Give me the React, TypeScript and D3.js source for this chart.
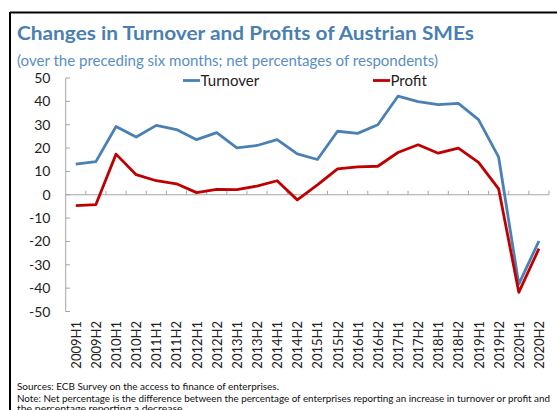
import React from "react";
import * as d3 from "d3";

const categories = [
  "2009H1","2009H2","2010H1","2010H2","2011H1","2011H2","2012H1","2012H2",
  "2013H1","2013H2","2014H1","2014H2","2015H1","2015H2","2016H1","2016H2",
  "2017H1","2017H2","2018H1","2018H2","2019H1","2019H2","2020H1","2020H2",
];
const turnover = [
  13.1, 14.2, 29.2, 24.7, 29.7, 27.9, 23.6, 26.6, 20.1, 21.1, 23.6, 17.5,
  15.1, 27.2, 26.3, 30.0, 42.2, 39.9, 38.6, 39.1, 32.2, 16.1, -38.3, -19.8,
];
const profit = [
  -4.7, -4.2, 17.4, 8.6, 6.0, 4.7, 0.9, 2.3, 2.2, 3.7, 6.0, -2.2,
  4.2, 11.1, 11.9, 12.2, 18.1, 21.4, 17.8, 20.0, 13.9, 2.5, -41.8, -23.1,
];
const yTicks = [50, 40, 30, 20, 10, 0, -10, -20, -30, -40, -50];
const seriesNames = ["Turnover", "Profit"];
const colors = ["#4a80b4", "#c00000"];

const W = 557;
const H = 410;
const FONT = "Lato, 'Open Sans', sans-serif";

export default function App() {
  const x = d3.scaleBand<string>().domain(categories).range([65.7, 549]).padding(0);
  const y = d3.scaleLinear().domain([-50, 50]).range([311.5, 78]);
  const line = d3
    .line<number>()
    .x((_, i) => (x(categories[i]) as number) + x.bandwidth() / 2)
    .y((d) => y(d));
  const y0 = y(0);
  const axisColor = "#a6a6a6";

  return (
    <svg
      width={W}
      height={H}
      style={{ position: "absolute", left: 0, top: 0, background: "#fff" }}
      fontFamily={FONT}
    >
      <rect x={0} y={0} width={W} height={H} fill="#fff" />
      {/* frame */}
      <line x1={10} y1={12.5} x2={W} y2={12.5} stroke="#000" strokeWidth={2} />
      <line x1={10} y1={12} x2={10} y2={H} stroke="#000" strokeWidth={2} />

      <text
        x={17}
        y={40}
        fontSize={19.5}
        fontWeight={700}
        fill="#4a7fb1"
        textLength={457}
        lengthAdjust="spacingAndGlyphs"
      >
        Changes in Turnover and Profits of Austrian SMEs
      </text>
      <text x={17} y={66} fontSize={15} fill="#5a8ec3" textLength={421} lengthAdjust="spacingAndGlyphs">
        (over the preceding six months; net percentages of respondents)
      </text>

      {/* y axis */}
      <line x1={65.7} y1={y(50)} x2={65.7} y2={y(-50)} stroke={axisColor} strokeWidth={1} />
      {yTicks.map((t) => (
        <g key={t}>
          <line x1={65.7} x2={70} y1={y(t)} y2={y(t)} stroke={axisColor} />
          <text
            x={50.5}
            y={y(t)}
            dy="0.36em"
            textAnchor="end"
            fontSize={14}
            fill="#222"
          >
            {t}
          </text>
        </g>
      ))}

      {/* x axis at zero */}
      <line x1={65.7} x2={549} y1={y0} y2={y0} stroke={axisColor} strokeWidth={1} />
      {categories.map((c) => (
        <line
          key={"t" + c}
          x1={(x(c) as number) + x.bandwidth()}
          x2={(x(c) as number) + x.bandwidth()}
          y1={y0}
          y2={y0 - 4}
          stroke={axisColor}
        />
      ))}
      {categories.map((c) => {
        const cx = (x(c) as number) + x.bandwidth() / 2;
        return (
          <text
            key={"l" + c}
            transform={`translate(${cx + 5},321) rotate(-90)`}
            textAnchor="end"
            fontSize={13}
            fill="#222"
          >
            {c}
          </text>
        );
      })}

      {/* lines */}
      {[turnover, profit].map((s, k) => (
        <path
          key={k}
          d={line(s) as string}
          fill="none"
          stroke={colors[k]}
          strokeWidth={2.8}
          strokeLinejoin="round"
        />
      ))}

      {/* legend */}
      {seriesNames.map((n, k) => {
        const lx = k === 0 ? 183 : 373;
        return (
          <g key={n}>
            <line x1={lx} x2={lx + 17} y1={80.5} y2={80.5} stroke={colors[k]} strokeWidth={2.8} />
            <text x={lx + 17.5} y={86} fontSize={15} fill="#222">
              {n}
            </text>
          </g>
        );
      })}

      {/* footer */}
      <text x={17} y={390} fontSize={10.3} fill="#111" textLength={262} lengthAdjust="spacingAndGlyphs">
        Sources: ECB Survey on the access to finance of enterprises.
      </text>
      <text x={17} y={401.5} fontSize={9.8} fill="#111" textLength={533} lengthAdjust="spacingAndGlyphs">
        Note: Net percentage is the difference between the percentage of enterprises reporting an increase in turnover or profit and
      </text>
      <text x={17} y={412} fontSize={10.3} fill="#111" textLength={168} lengthAdjust="spacingAndGlyphs">
        the percentage reporting a decrease.
      </text>
    </svg>
  );
}
